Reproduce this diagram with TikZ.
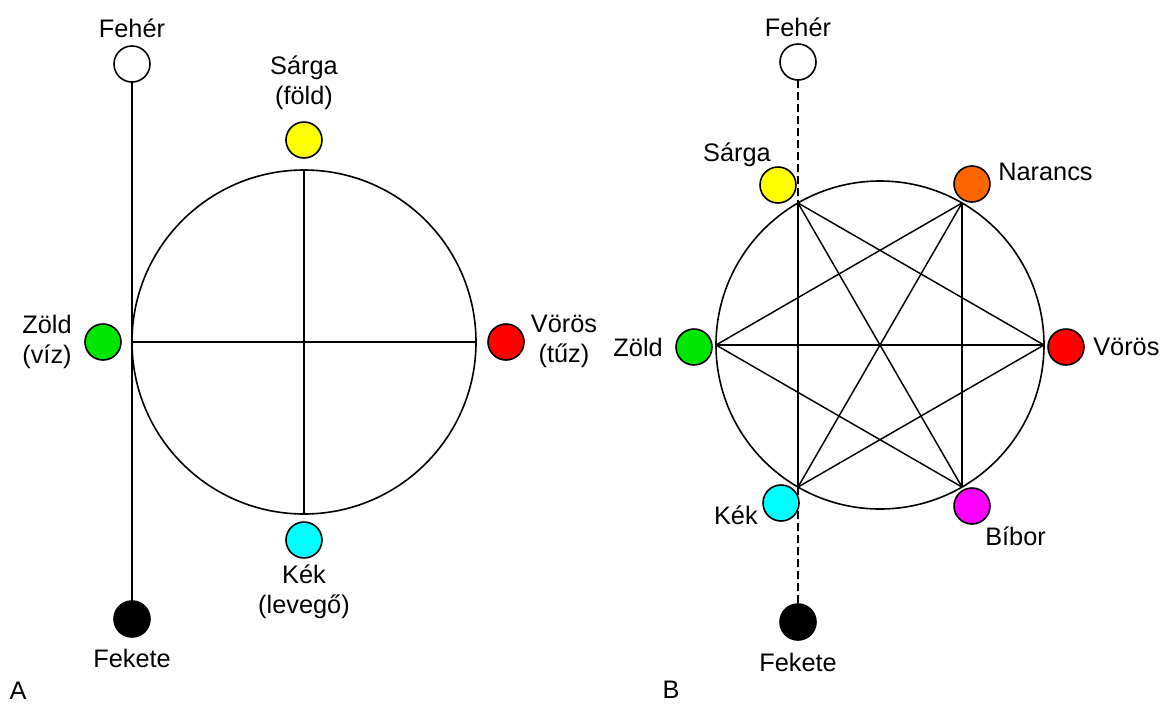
\documentclass[tikz,border=0pt]{standalone}
\usepackage{fontspec}
\setmainfont{Liberation Sans}
\usepackage{xcolor}
\usetikzlibrary{positioning}

\definecolor{sarga}{RGB}{255,255,0}
\definecolor{zold}{RGB}{0,230,0}
\definecolor{voros}{RGB}{255,0,0}
\definecolor{kek}{RGB}{0,255,255}
\definecolor{narancs}{RGB}{255,102,0}
\definecolor{bibor}{RGB}{255,0,255}

\begin{document}
\begin{tikzpicture}[x=0.75pt,y=-0.75pt,
  pont/.style={circle,draw=black,line width=1.2pt,minimum size=27pt,inner sep=0pt,outer sep=0pt},
  nagykor/.style={circle,draw=black,line width=1.2pt,inner sep=0pt,outer sep=0pt},
  cimke/.style={inner sep=0pt,align=center,font=\fontsize{19}{22.5}\selectfont}]

\useasboundingbox (0,0) rectangle (1165,704);

% A: kor es kereszt
\node[nagykor,minimum size=258pt] (korA) at (304,342) {};
\draw[line width=1.1pt] (korA.north) -- (korA.south);
\draw[line width=1.1pt] (korA.west) -- (korA.east);

% A: feher-fekete tengely
\node[pont,fill=white] (feherA) at (132,64) {};
\node[pont,fill=black] (feketeA) at (132,619) {};
\draw[line width=1.8pt] (feherA) -- (feketeA);

% A: negy elem
\node[pont,fill=sarga] (sargaA) at (304,140) {};
\node[pont,fill=zold] (zoldA) at (103,342) {};
\node[pont,fill=voros] (vorosA) at (506,342) {};
\node[pont,fill=kek] (kekA) at (304,540) {};

% A: feliratok
\node[cimke] (tFeherA) at (132,28) {Fehér};
\node[cimke] (tFeketeA) at (132,658) {Fekete};
\node[cimke] (tSargaA) at (304,83) {Sárga\\(föld)};
\node[cimke] (tZoldA) at (47,342) {Zöld\\(víz)};
\node[cimke] (tVorosA) at (564,341) {Vörös\\(tűz)};
\node[cimke] (tKekA) at (304,592) {Kék\\(levegő)};
\node[cimke] (tA) at (18,691) {A};

% B: kor es hatszog atloi
\node[nagykor,minimum size=246pt] (korB) at (880,345) {};
\foreach \a/\b in {0/120,0/180,0/240,60/180,60/240,60/300,120/240,120/300,180/300}
  \draw[line width=1.1pt] (korB.\a) -- (korB.\b);

% B: feher-fekete tengely (szaggatott)
\node[pont,fill=white] (feherB) at (798,62) {};
\node[pont,fill=black] (feketeB) at (798,622) {};
\draw[line width=1.3pt,dash pattern=on 6pt off 3pt] (feherB) -- (korB.120);
\draw[line width=1.3pt,dash pattern=on 6pt off 3pt] (korB.240) -- (feketeB);

% B: hat szin
\node[pont,fill=sarga] (sargaB) at (778,185) {};
\node[pont,fill=narancs] (narancsB) at (972,184) {};
\node[pont,fill=zold] (zoldB) at (694,347) {};
\node[pont,fill=voros] (vorosB) at (1066,347) {};
\node[pont,fill=kek] (kekB) at (781,503) {};
\node[pont,fill=bibor] (biborB) at (972,506) {};

% B: feliratok
\node[cimke] (tFeherB) at (798,27) {Fehér};
\node[cimke] (tFeketeB) at (798,662) {Fekete};
\node[cimke] (tSargaB) at (737,155) {Sárga};
\node[cimke,anchor=west] (tNarancsB) at (998,172) {Narancs};
\node[cimke,anchor=east] (tZoldB) at (663,347) {Zöld};
\node[cimke,anchor=west] (tVorosB) at (1093,347) {Vörös};
\node[cimke,anchor=east] (tKekB) at (758,515) {Kék};
\node[cimke,anchor=west] (tBiborB) at (985,536) {Bíbor};
\node[cimke] (tB) at (671,690) {B};

\end{tikzpicture}
\end{document}
